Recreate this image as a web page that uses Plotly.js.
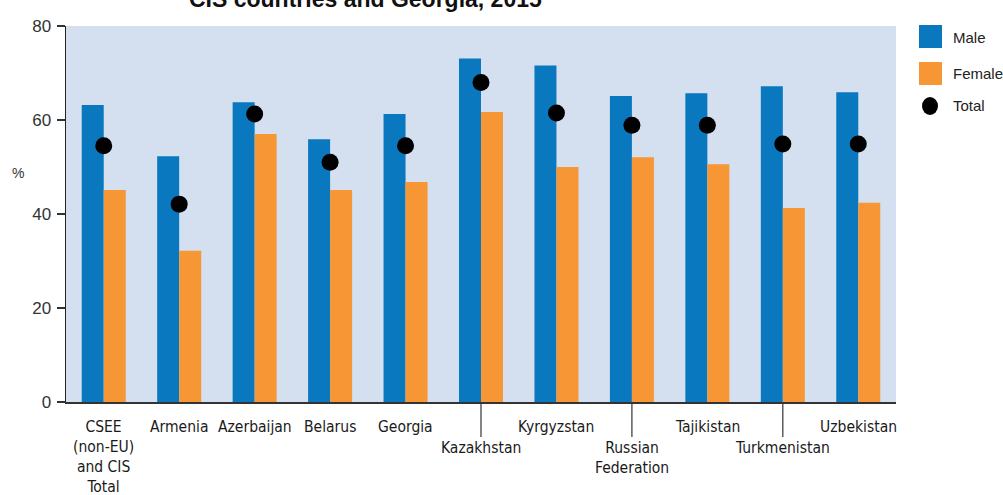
<!DOCTYPE html>
<html>
<head>
<meta charset="utf-8">
<script src="https://cdn.plot.ly/plotly-3.0.1.min.js"></script>
<style>html,body{margin:0;padding:0;background:#fff;}#chart{width:1003px;height:495px;}</style>
</head>
<body>
<div id="chart"></div>
<script>
const categories = ["CSEE (non-EU) and CIS Total","Armenia","Azerbaijan","Belarus","Georgia","Kazakhstan","Kyrgyzstan","Russian Federation","Tajikistan","Turkmenistan","Uzbekistan"];
const tickLabels = ["CSEE<br>(non-EU)<br>and CIS<br>Total","Armenia","Azerbaijan","Belarus","Georgia","Kazakhstan","Kyrgyzstan","Russian<br>Federation","Tajikistan","Turkmenistan","Uzbekistan"];
const lowered = [false,false,false,false,false,true,false,true,false,true,false];
const male   = [63.2,52.3,63.8,55.9,61.3,73.1,71.6,65.1,65.7,67.2,65.9];
const female = [45.1,32.2,57.0,45.1,46.8,61.7,50.0,52.1,50.6,41.3,42.4];
const total  = [54.5,42.1,61.3,51.0,54.5,68.0,61.5,58.9,58.9,54.9,54.9];
const seriesNames = ["Male","Female","Total"];
const yTicks = [0,20,40,60,80];
const titleText = "CIS countries and Georgia, 2015";

const BLUE = "#0a78be", ORANGE = "#f69635";
const narrow = "'Liberation Sans Narrow', 'DejaVu Sans Condensed', 'Arial Narrow', sans-serif";

const traces = [
  {type:"bar", x:categories, y:male, name:seriesNames[0], marker:{color:BLUE}, showlegend:false, hoverinfo:"y"},
  {type:"bar", x:categories, y:female, name:seriesNames[1], marker:{color:ORANGE}, showlegend:false, hoverinfo:"y"},
  {type:"scatter", mode:"markers", x:categories, y:total, name:seriesNames[2], marker:{color:"#000", size:17, symbol:"circle"}, showlegend:false, hoverinfo:"y"}
];

const annotations = [];
const shapes = [];
categories.forEach((c,i)=>{
  annotations.push({x:c, xref:"x", y:0, yref:"paper", yanchor:"top", xanchor:"center",
    yshift: lowered[i] ? -35 : -14, text:tickLabels[i], showarrow:false,
    font:{family:narrow, size:15.5, color:"#1a1a1a"}, align:"center"});
  if (lowered[i]) {
    shapes.push({type:"line", xref:"x", yref:"paper", x0:c, x1:c, y0:0, y1:-0.093,
      line:{color:"#333", width:1.2}});
  }
});
// y-axis title
annotations.push({x:0, xref:"paper", xshift:-56, y:0.61, yref:"paper", text:"%", showarrow:false,
  font:{family:"'Liberation Sans', Arial, sans-serif", size:14, color:"#333"}});
// title (cut off at top)
annotations.push({x:0.361, xref:"paper", y:1, yref:"paper", yanchor:"bottom", yshift:12, xanchor:"center",
  text:"<b>"+titleText+"</b>", showarrow:false,
  font:{family:"'Liberation Sans', Arial, sans-serif", size:23, color:"#111"}});

// manual legend (paper coords; plot spans 66..896 px wide=830, height 376)
const px = v => (v-66)/830;
const py = v => (402-v)/376;
shapes.push({type:"rect", xref:"paper", yref:"paper", x0:px(919), x1:px(942), y0:py(48), y1:py(25), fillcolor:BLUE, line:{width:0}});
shapes.push({type:"rect", xref:"paper", yref:"paper", x0:px(919), x1:px(942), y0:py(85), y1:py(62), fillcolor:ORANGE, line:{width:0}});
shapes.push({type:"circle", xref:"paper", yref:"paper", x0:px(922), x1:px(938), y0:py(115), y1:py(97), fillcolor:"#000", line:{width:0}});
const legY = [37, 74, 106];
seriesNames.forEach((n,i)=>{
  annotations.push({x:px(951), xref:"paper", y:py(legY[i]), yref:"paper", xanchor:"left", yanchor:"middle",
    text:n, showarrow:false, font:{family:"'Liberation Sans', Arial, sans-serif", size:15, color:"#222"}});
});

const layout = {
  width:1003, height:495,
  margin:{l:66, r:107, t:26, b:93, pad:0},
  paper_bgcolor:"#fff", plot_bgcolor:"#d4dff0",
  barmode:"group", bargap:0.417, bargroupgap:0,
  showlegend:false,
  xaxis:{type:"category", range:[-0.5, categories.length-0.5], showticklabels:false, ticks:"", showgrid:false, zeroline:false,
    showline:true, linecolor:"#333", linewidth:2, fixedrange:true},
  yaxis:{range:[0,80], tickvals:yTicks, ticktext:yTicks.map(String), ticks:"outside", ticklen:8, tickwidth:1.2,
    tickcolor:"#333", showgrid:false, zeroline:false, showline:true, linecolor:"#222", linewidth:1.5,
    tickfont:{family:"'Liberation Sans', Arial, sans-serif", size:17, color:"#333"}, ticklabelstandoff:2},
  annotations:annotations, shapes:shapes
};
Plotly.newPlot("chart", traces, layout, {displayModeBar:false, staticPlot:true});
</script>
</body>
</html>
